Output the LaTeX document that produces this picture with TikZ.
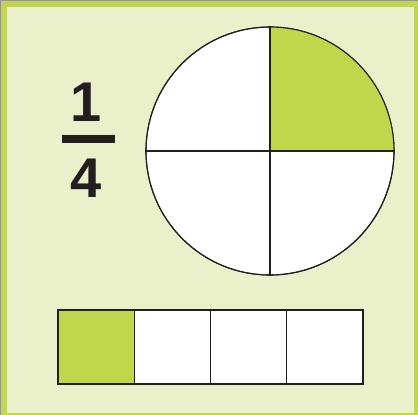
\documentclass[tikz,border=0pt]{standalone}
\usepackage{fontspec}
\setmainfont{Liberation Sans}
\usetikzlibrary{positioning}
\definecolor{lime}{RGB}{192,214,75}
\definecolor{paper}{RGB}{234,240,202}
\definecolor{lilac}{RGB}{155,135,200}
\definecolor{ink}{RGB}{35,31,32}
\tikzset{
  part/.style={draw=ink,line width=1.1pt,fill=#1},
  part/.default=white,
  cell/.style={part=#1,minimum width=76.25pt,minimum height=74pt,inner sep=0pt,outer sep=0pt},
  cell/.default=white,
  digit/.style={font=\fontsize{56}{56}\selectfont\bfseries,text=ink,inner sep=0pt},
}
\begin{document}
\begin{tikzpicture}[x=1pt,y=-1pt]
  \useasboundingbox (0,0) rectangle (418,415);
  % frame
  \fill[lime] (0,0) rectangle (418,415);
  \fill[paper] (6.5,6.5) rectangle (414,413);
  \fill[lilac] (0,0) rectangle (418,1);
  \fill[lilac] (0,0) rectangle (1,415);
  % pie in quarters
  \node[part,circle,minimum size=248pt,inner sep=0pt] (pie) at (270,151) {};
  \fill[lime] (pie.center) -- (pie.east) arc (0:-90:124) -- cycle;
  \draw[ink,line width=1.1pt] (pie.center) circle (124);
  \draw[ink,line width=1.1pt] (pie.north) -- (pie.south);
  \draw[ink,line width=1.1pt] (pie.west) -- (pie.east);
  % fraction
  \node[digit] (num) at (86,102) {1};
  \node[digit] (den) at (86,178) {4};
  \fill[ink] (62,135) rectangle (115,143);
  % strip of four
  \foreach \i/\c in {0/lime,1/white,2/white,3/white}
    \node[cell=\c] (cell\i) at ({96.1+76.25*\i},347) {};
\end{tikzpicture}
\end{document}
